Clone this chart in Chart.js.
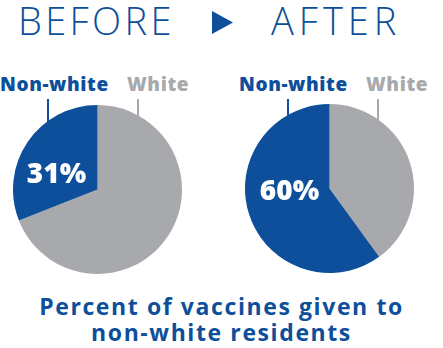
<!DOCTYPE html>
<html>
<head>
<meta charset="utf-8">
<script src="https://cdn.jsdelivr.net/npm/chart.js@4/dist/chart.umd.min.js"></script>
<style>
  body { margin: 0; background: #fff; width: 443px; height: 348px; overflow: hidden; position: relative; font-family: "Open Sans", sans-serif; }
  .abs { position: absolute; white-space: nowrap; line-height: 1; }
  .head { font-weight: 300; font-size: 38px; color: #0d4f9a; }
  .lab { font-weight: 800; font-size: 19px; letter-spacing: 0.6px; }
  .blue { color: #0d4f9a; }
  .gray { color: #a7a9ac; }
  .lead { position: absolute; width: 2px; }
  .foot { font-weight: 700; font-size: 23px; color: #0d4f9a; text-align: center; width: 443px; left: 0; line-height: 26px; letter-spacing: 1.6px; }
  canvas { position: absolute; }
</style>
</head>
<body>
<div class="abs head" style="left:18px; top:1px; letter-spacing:3.4px;">BEFORE</div>
<svg style="position:absolute; left:212px; top:11px;" width="21" height="23"><polygon points="0,0 21,11.5 0,23" fill="#0d4f9a"/></svg>
<div class="abs head" style="left:271px; top:1px; letter-spacing:5px;">AFTER</div>

<div class="abs lab blue" style="left:0px; top:75px;">Non-white</div>
<div class="abs lab gray" style="left:127px; top:75px;">White</div>
<div class="lead" style="left:47px; top:99px; height:24px; background:#0d4f9a;"></div>
<div class="lead" style="left:137px; top:99px; height:18px; background:#a7a9ac;"></div>

<div class="abs lab blue" style="left:239px; top:75px;">Non-white</div>
<div class="abs lab gray" style="left:366px; top:75px;">White</div>
<div class="lead" style="left:287px; top:99px; height:16px; background:#0d4f9a;"></div>
<div class="lead" style="left:377px; top:99px; height:24px; background:#a7a9ac;"></div>

<div style="position:absolute; left:13px; top:105px; width:169px; height:169px;"><canvas id="before"></canvas></div>
<div style="position:absolute; left:245px; top:104px; width:169px; height:169px;"><canvas id="after"></canvas></div>

<div class="abs foot" style="top:293px;">Percent of vaccines given to<br>non-white residents</div>

<script>
const groups = ['White', 'Non-white'];
const beforeValues = [69, 31];
const afterValues = [40, 60];
const colors = ['#a7a9ac', '#0d4f9a'];

// draws the non-white percent inside its slice
const pctLabel = {
    id: 'pctLabel',
    afterDatasetsDraw(chart, args, opts) {
        const arc = chart.getDatasetMeta(0).data[1];
        const ctx = chart.ctx;
        ctx.save();
        ctx.fillStyle = '#fff';
        ctx.font = '800 28px "Open Sans"';
        ctx.textAlign = 'center';
        ctx.textBaseline = 'middle';
        ctx.fillText(chart.data.datasets[0].data[1] + '%', arc.x + opts.dx, arc.y + opts.dy);
        ctx.restore();
    }
};

function makePie(id, values, dx, dy) {
    new Chart(document.getElementById(id), {
        type: 'pie',
        data: {
            labels: groups,
            datasets: [{
                data: values,
                backgroundColor: colors,
                borderWidth: 0
            }]
        },
        options: {
            responsive: true,
            maintainAspectRatio: false,
            animation: false,
            layout: { padding: 0 },
            plugins: {
                legend: { display: false },
                tooltip: { enabled: false },
                pctLabel: { dx: dx, dy: dy }
            }
        },
        plugins: [pctLabel]
    });
}

makePie('before', beforeValues, -41, -14);
makePie('after', afterValues, -40, 4);
</script>
</body>
</html>
